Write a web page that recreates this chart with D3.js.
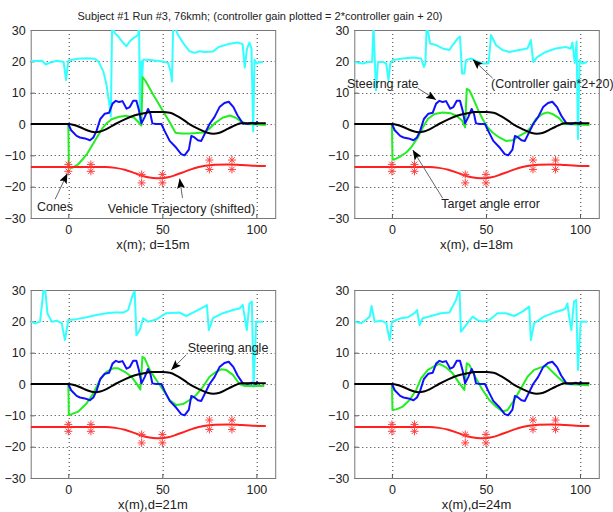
<!DOCTYPE html>
<html>
<head>
<meta charset="utf-8">
<script src="https://cdn.jsdelivr.net/npm/d3@7"></script>
<style>
  html, body { margin: 0; padding: 0; background: #fff; }
  svg { display: block; font-family: "Liberation Sans", Arial, sans-serif; }
  .tick text { fill: #222; }
</style>
</head>
<body>
<div id="chart"></div>
<script>
// ─── Data ───────────────────────────────────────────────────────────────────

const X_TICKS = [0, 50, 100];
const Y_TICKS = [-30, -20, -10, 0, 10, 20, 30];

const CONE_X = [0, 12, 39, 50, 75, 87];
const CONE_Y_UPPER = [-12.9, -12.9, -16.1, -16.1, -11.5, -11.5];
const CONE_Y_LOWER = [-15.1, -15.1, -18.8, -18.8, -14.5, -14.5];

// vehicle trajectory (shifted), same in every panel
const TRAJECTORY = [
  [-20, -13.7], [20, -13.7], [25, -14], [30, -14.6], [35, -15.6], [40, -16.7],
  [45, -17.2], [49, -17.3], [53, -17], [57, -16.3], [62, -15.2], [67, -14.1],
  [72, -13.4], [78, -13], [85, -12.9], [92, -13.1], [98, -13.3], [105, -13.4]
];

// steering angle (black)
const STEER_ANGLE = [
  [-20, 0], [0, 0], [3, -0.3], [7, -1.2], [10, -2], [14, -2.6], [17, -2.4],
  [20, -1.7], [25, 0], [30, 1.5], [35, 2.7], [40, 3.4], [44, 3.8], [50, 3.8],
  [54, 3.6], [58, 2.5], [62, 1], [65, -0.3], [70, -1.8], [74, -2.8], [77, -3.1],
  [80, -2.9], [85, -1.5], [89, -0.3], [92, 0.2], [105, 0.2]
];

// steering rate (blue)
const STEER_RATE = [
  [-20, 0], [0, 0], [1.5, -2], [4.4, -3.8], [6.2, -4.3], [8.8, -4.6], [11.5, -5.2],
  [13.3, -4.3], [15, -2.2], [17, 1.6], [19.4, 3.3], [21.7, 3.6], [23.5, 6.5],
  [25.3, 7.4], [27, 7], [28.8, 7.3], [31, 4.9], [32.7, 5.4], [34.5, 7.4], [36.2, 7.4],
  [37.6, 4.3], [38.9, 0.2], [40.6, 2.2], [42.4, 4.8], [43.6, 3.3], [44.7, 0.2],
  [46.8, 0], [49.5, 0], [51.2, -2.2], [53.9, -5.4], [57.4, -7.6], [60, -9.6],
  [61.8, -10], [64.1, -8.2], [65.4, -3.8], [67.1, -4.3], [68.9, -5.2], [70.7, -5.4],
  [72.4, -3.3], [75.1, 0], [77.7, 2.2], [80.4, 5.4], [83, 6.7], [85.3, 7.1],
  [87.8, 5.4], [90, 2.7], [92.8, 0.2], [95.4, 0], [97.7, 0.4], [99.8, 0],
  [100.3, 0.7], [101, 0]
];

// target angle error (green), one per panel
const ERROR_15 = [
  [-20, 0], [0, 0], [0.3, -14], [2, -14], [5, -13], [8, -11], [10, -9.5], [12, -7.5],
  [15, -4.5], [18, -1.5], [20, 0], [23, 1.5], [27, 2.3], [31, 2.6], [35, 2],
  [37.5, 0.5], [38.8, -0.5], [39.5, 15], [41, 13.8], [45, 9.5], [50, 4.5], [54, 0.5],
  [57, -2.8], [60, -3], [65, -3], [72, -2.7], [75, -1.5], [78, 0.3], [82, 2],
  [86, 2.7], [89, 2], [92, 0.7], [95, 0], [105, -0.3]
];
const ERROR_18 = [
  [-20, 0], [0, 0], [0.3, -11.3], [1.4, -11.3], [4.1, -10.5], [7.6, -9.1], [10.2, -7.5],
  [13.8, -4.3], [16.4, -1.1], [19.1, 1.6], [22.6, 3.2], [27, 3.7], [31.4, 3.4],
  [34.1, 2.7], [37.3, 1.1], [38.9, -1.1], [39.8, 11.2], [41.2, 10.7], [42.9, 8.6],
  [45.6, 4.8], [48.2, 1.6], [50.9, -1.1], [53.5, -2.7], [57.1, -4.3], [60.6, -5.4],
  [64.1, -5.2], [67.7, -3.8], [71.2, -2.7], [73.9, -1.1], [76.5, 1.6], [80, 3.2],
  [82.7, 3.7], [85.3, 3.2], [88.9, 1.9], [91.5, 0], [105, -0.3]
];
const ERROR_21 = [
  [-20, 0], [0, 0], [0.3, -9.9], [1.8, -9.6], [5.3, -8.8], [9.7, -6.2], [13.3, -3],
  [16.8, 1.3], [20.3, 3.9], [23.9, 5], [26.5, 5], [30, 3.9], [33.6, 2.3], [36.2, 0.2],
  [38.3, -1.7], [39.4, 8.7], [40.6, 8.2], [43.3, 4.5], [46.8, 1.3], [50.4, -1.9],
  [53.9, -5.1], [57.4, -6.7], [61, -6.4], [64.5, -5.1], [68, -3.5], [71.6, -0.9],
  [75.1, 2.3], [78.6, 3.9], [81.3, 4.7], [83.9, 4.5], [87.5, 2.9], [91, 0],
  [93.6, -0.6], [104.2, -0.6]
];
const ERROR_24 = [
  [-20, 0], [0, 0], [0.3, -8.3], [2.3, -8.1], [5.8, -7.2], [9.4, -5.1], [12.9, -1.9],
  [15.5, 1.8], [19.1, 4.5], [22.6, 5.7], [25.3, 6.4], [28.8, 5.3], [32.3, 3.4],
  [35.9, 0.2], [38.5, -1.9], [39.8, 6.6], [41.2, 6.1], [44.7, 1.8], [48.2, -1.9],
  [51.8, -5.1], [55.3, -7.2], [58.8, -8.8], [61.5, -8.3], [65, -5.1], [68.6, -1.4],
  [72.1, 2.3], [75.6, 4.5], [79.2, 5.3], [82.3, 5.7], [85.3, 3.9], [88.9, 1.8],
  [92.4, 0], [104.8, -0.4]
];

// controller gain*2+20 (cyan), one per panel
const GAIN_15 = [
  [-20, 20], [-14, 20.2], [-12, 19], [-10, 19.5], [-6, 20.2], [-2.5, 19.8], [-1.2, 14],
  [0, 20.3], [5, 20.8], [10, 21], [14, 20.8], [16, 20], [18.6, 16.8], [20.3, 12.6],
  [21.6, 7.2], [22.6, 2.5], [23.3, 32], [24.7, 29], [26.5, 28], [29.2, 25.9],
  [30.9, 24.8], [32.7, 26.4], [34.5, 27.4], [36.2, 28], [37.2, 28.5], [37.6, 33],
  [38.1, 1], [38.7, 20], [39.2, 14.5], [39.8, 20.5], [42.4, 20.5], [45.9, 20.3],
  [49.5, 20], [53, 19.5], [54.4, 16.8], [55.1, 13.6], [55.8, 32], [58.3, 28.5],
  [61, 25.9], [64.5, 23.2], [67.1, 22.7], [69.8, 23.2], [72.4, 23], [76.8, 23.1],
  [80, 24.6], [85, 25.5], [90, 26], [92.7, 25.5], [93.8, 18], [95, 24], [96.3, 26],
  [97.4, 24], [98.3, -2.4], [99, 20.5], [100.2, 19.3], [102, 19.8], [103.5, 19.6]
];
const GAIN_18 = [
  [-20, 19.8], [-15.4, 19.3], [-12.7, 19.8], [-10.5, 19.8], [-9.8, 32], [-8.5, 10.8],
  [-7.4, 19.8], [-4.8, 19.8], [-3, 19.3], [-1.8, 13.9], [-0.9, 19.3], [0.5, 20.4],
  [5.8, 20.9], [11.1, 21.2], [15.5, 20.9], [17, 18.2], [17.8, 19.3], [18.5, 32],
  [20.3, 25.7], [23.5, 25.2], [27, 24.1], [30.6, 23.6], [32.3, 25.2], [35, 27.3],
  [36.2, 27.9], [37.3, 16.1], [38.5, 16.1], [39.4, 20.4], [42, 20.9], [44.7, 20.1],
  [48.2, 19.3], [51.4, 19.3], [52.7, 28.4], [55.3, 25.2], [58.8, 23.6], [62.4, 23],
  [67.7, 23.6], [72.1, 24.1], [73.9, 26.8], [75.1, 19.8], [77.4, 21.4], [81.8, 23],
  [87.1, 24.1], [92.4, 24.6], [95, 24], [96, 26], [97.2, 19.5], [98.2, 26.3],
  [98.9, -4.8], [99.8, 20.4], [101.2, 19.3], [103.9, 19.8]
];
const GAIN_21 = [
  [-20, 19.9], [-17.7, 19.4], [-15, 19.9], [-13.3, 29.5], [-12.4, 31], [-11.1, 22.5],
  [-8.8, 19.9], [-6.2, 20.2], [-3.5, 19.4], [-1.8, 14], [0, 20.4], [4.4, 20.7],
  [9.7, 21.3], [15, 22], [20.3, 22.6], [24.7, 22.8], [29.2, 22.8], [31.8, 23.6],
  [34.5, 28.9], [35.3, 29.5], [36.2, 15.6], [38, 17.2], [39.8, 21], [42.4, 19.9],
  [46.8, 20.6], [52.1, 22.6], [59.2, 22.8], [62.7, 21.7], [66.3, 22.8], [72.4, 24.7],
  [73.7, 25.2], [74.7, 17.2], [76.9, 21], [82.2, 22.6], [87.5, 23.6], [91, 24.1],
  [92.8, 25.2], [93.6, 22], [94.9, 17.2], [96.3, 25.7], [97.6, 26.3], [98.5, -0.9],
  [99.9, 19.9], [103.5, 19.9]
];
const GAIN_24 = [
  [-20, 19.9], [-16.3, 19.4], [-13.6, 20.6], [-11.8, 21.5], [-10.8, 24.9], [-9.2, 19.9],
  [-5.7, 20.2], [-3, 19.4], [-1.2, 14], [0, 19.9], [4.9, 21], [8.5, 21.3], [12, 22.6],
  [13.4, 23.6], [14.7, 18.8], [16.4, 21], [20.8, 21.7], [26.1, 22.6], [30.6, 22.8],
  [34.1, 26.8], [35.9, 30.5], [36.7, 16.7], [39.4, 18.8], [42.9, 21.5], [45.6, 20.4],
  [48.2, 19.9], [51.8, 20.4], [56.2, 22.6], [60.6, 22.6], [65, 21.7], [69.4, 23.1],
  [73, 24.7], [73.9, 14], [75.6, 19.4], [80.9, 21.5], [86.2, 22.8], [90.6, 23.6],
  [92.3, 24.1], [93.3, 25.7], [94.2, 21.5], [95.4, 17.2], [96.8, 26.3], [98, 26.8],
  [98.9, 4.5], [100.4, 19.9], [103.9, 19.9]
];

// annotations in data units: text anchor, arrow tail, arrow tip
const NOTES_15 = [
  { text: 'Cones', at: [-16.7, -26.5], tail: [-7, -24], tip: [-0.5, -15.8] },
  { text: 'Vehicle Trajectory (shifted)', at: [21, -27.1], tail: [60.7, -23.6], tip: [59.2, -17.4] }
];
const NOTES_18 = [
  { text: 'Steeirng rate', at: [-23.9, 13], tail: [13.8, 11.4], tip: [23.5, 7.7] },
  { text: '(Controller gain*2+20)', at: [52.7, 13], tail: [53.6, 14.6], tip: [43, 20.6] },
  { text: 'Target angle error', at: [26.2, -25.5], tail: [27, -23.7], tip: [11.1, -8.3] }
];
const NOTES_21 = [
  { text: 'Steering angle', at: [63.5, 11.7], tail: [62.7, 9.3], tip: [54.7, 4.5] }
];
const NOTES_24 = [];

const TITLE = 'Subject #1 Run #3, 76kmh; (controller gain plotted = 2*controller gain + 20)';

// ─── Layout ─────────────────────────────────────────────────────────────────

const W = 613, H = 512;
const PANELS = [
  { left: 30.7, top: 30, xlabel: 'x(m); d=15m', gain: GAIN_15, error: ERROR_15, notes: NOTES_15 },
  { left: 354.3, top: 30, xlabel: 'x(m), d=18m', gain: GAIN_18, error: ERROR_18, notes: NOTES_18 },
  { left: 30.7, top: 290, xlabel: 'x(m),d=21m', gain: GAIN_21, error: ERROR_21, notes: NOTES_21 },
  { left: 354.3, top: 290, xlabel: 'x(m),d=24m', gain: GAIN_24, error: ERROR_24, notes: NOTES_24 }
];
const PW = 244.5, PH = 188;

const COLORS = {
  gain: '#33ffff',
  error: '#22ee22',
  rate: '#1010ff',
  angle: '#000000',
  traj: '#ff2020'
};

const svg = d3.select('#chart').append('svg')
  .attr('width', W)
  .attr('height', H);

svg.append('text')
  .attr('x', 260)
  .attr('y', 20)
  .attr('text-anchor', 'middle')
  .style('font-size', '11px')
  .style('fill', '#222')
  .text(TITLE);

const defs = svg.append('defs');
defs.append('marker')
  .attr('id', 'head')
  .attr('viewBox', '0 0 10 8')
  .attr('refX', 10).attr('refY', 4)
  .attr('markerWidth', 10).attr('markerHeight', 8)
  .attr('markerUnits', 'userSpaceOnUse')
  .attr('orient', 'auto')
  .append('path')
  .attr('d', 'M0,0 L10,4 L0,8 L2,4 Z')
  .attr('fill', '#000');

PANELS.forEach((p, i) => drawPanel(p, i));

function drawPanel(p, i) {
  const x = d3.scaleLinear().domain([-20, 110]).range([0, PW]);
  const y = d3.scaleLinear().domain([-30, 30]).range([PH, 0]);

  const g = svg.append('g').attr('transform', `translate(${p.left},${p.top})`);

  defs.append('clipPath').attr('id', `clip${i}`)
    .append('rect').attr('width', PW).attr('height', PH);

  // dotted grid
  g.append('g')
    .selectAll('line.gx')
    .data(X_TICKS)
    .enter().append('line')
    .attr('x1', d => Math.round(x(d)) + 0.5).attr('x2', d => Math.round(x(d)) + 0.5)
    .attr('y1', 0).attr('y2', PH)
    .attr('stroke', '#333').attr('stroke-width', 1)
    .attr('stroke-dasharray', '1,3');
  g.append('g')
    .selectAll('line.gy')
    .data(Y_TICKS.slice(1, -1))
    .enter().append('line')
    .attr('x1', 0).attr('x2', PW)
    .attr('y1', d => Math.round(y(d)) + 0.5).attr('y2', d => Math.round(y(d)) + 0.5)
    .attr('stroke', '#333').attr('stroke-width', 1)
    .attr('stroke-dasharray', '1,3');

  // axes
  const xAxis = g.append('g')
    .attr('transform', `translate(0,${PH})`)
    .call(d3.axisBottom(x).tickValues(X_TICKS).tickSize(-4).tickPadding(7));
  const yAxis = g.append('g')
    .call(d3.axisLeft(y).tickValues(Y_TICKS).tickSize(-4).tickPadding(5));
  [xAxis, yAxis].forEach(a => {
    a.select('.domain').remove();
    a.selectAll('.tick line').attr('stroke', '#555');
    a.selectAll('text')
      .style('font-size', '12.5px')
      .style('font-family', '"Liberation Sans", Arial, sans-serif');
  });

  g.append('rect')
    .attr('x', 0.5).attr('y', 0.5)
    .attr('width', PW).attr('height', PH)
    .attr('fill', 'none')
    .attr('stroke', '#777');

  g.append('text')
    .attr('x', PW / 2)
    .attr('y', PH + 31)
    .attr('text-anchor', 'middle')
    .style('font-size', '13px')
    .style('fill', '#222')
    .text(p.xlabel);

  // series
  const plot = g.append('g').attr('clip-path', `url(#clip${i})`);
  const line = d3.line().x(d => x(d[0])).y(d => y(d[1]));
  const smooth = d3.line().x(d => x(d[0])).y(d => y(d[1])).curve(d3.curveMonotoneX);

  const series = [
    { data: p.gain, color: COLORS.gain, gen: line },
    { data: p.error, color: COLORS.error, gen: line },
    { data: STEER_RATE, color: COLORS.rate, gen: line },
    { data: STEER_ANGLE, color: COLORS.angle, gen: smooth },
    { data: TRAJECTORY, color: COLORS.traj, gen: smooth }
  ];
  series.forEach(s => {
    plot.append('path')
      .attr('d', s.gen(s.data))
      .attr('fill', 'none')
      .attr('stroke', s.color)
      .attr('stroke-width', 2)
      .attr('stroke-linejoin', 'round');
  });

  // cones (asterisks)
  const cones = CONE_X.flatMap((cx, k) => [[cx, CONE_Y_UPPER[k]], [cx, CONE_Y_LOWER[k]]]);
  const r = 4;
  const star = plot.selectAll('g.cone')
    .data(cones)
    .enter().append('g')
    .attr('transform', d => `translate(${x(d[0])},${y(d[1])})`)
    .attr('stroke', '#ff4040')
    .attr('stroke-width', 1);
  star.append('path')
    .attr('d', `M${-r},0H${r}M0,${-r}V${r}M${-r * 0.7},${-r * 0.7}L${r * 0.7},${r * 0.7}M${-r * 0.7},${r * 0.7}L${r * 0.7},${-r * 0.7}`);

  // annotations
  p.notes.forEach(n => {
    g.append('text')
      .attr('x', x(n.at[0]))
      .attr('y', y(n.at[1]))
      .attr('dy', '0.35em')
      .style('font-size', '12.5px')
      .style('fill', '#222')
      .text(n.text);
    g.append('line')
      .attr('x1', x(n.tail[0])).attr('y1', y(n.tail[1]))
      .attr('x2', x(n.tip[0])).attr('y2', y(n.tip[1]))
      .attr('stroke', '#666')
      .attr('stroke-width', 1)
      .attr('marker-end', 'url(#head)');
  });
}
</script>
</body>
</html>
